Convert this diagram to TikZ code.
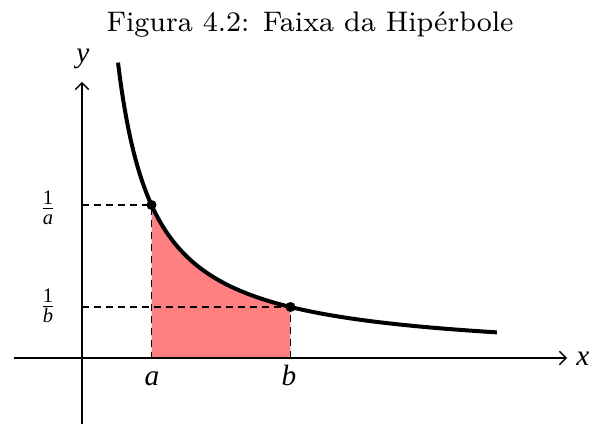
\documentclass[tikz,border=0pt]{standalone}
\usepackage{amsmath}
\usepackage{fontspec}
\newfontfamily\tmfont{Liberation Serif}
\usetikzlibrary{arrows.meta}
\tikzset{
  axisline/.style={line width=1pt, -{Straight Barb[length=5pt,width=10pt,line width=1pt]}},
  guide/.style={line width=0.9pt, dash pattern=on 5.25pt off 3.75pt},
  curveline/.style={line width=3pt},
  lbl/.style={font=\fontsize{22}{26}\selectfont\tmfont\itshape, inner sep=0pt},
  dotmark/.style={circle, fill=black, inner sep=0pt, minimum size=7.5pt},
  titlestyle/.style={font=\fontsize{8}{10}\selectfont, inner sep=0pt, scale=2.65},
}
\begin{document}
\begin{tikzpicture}[x=0.75pt,y=-0.75pt]
\useasboundingbox (0,0) rectangle (592,424);
\node[titlestyle, anchor=base] (title) at (310,32) {Figura 4.2: Faixa da Hip\'erbole};
\coordinate (O) at (82,358);
\begin{scope}[shift={(82,358)}, x={(52.125pt,0pt)}, y={(0pt,114.75pt)}]
  \coordinate (A) at (1,1);
  \coordinate (B) at (3,1/3);
  \coordinate (Ax) at (1,0);
  \coordinate (Bx) at (3,0);
  \coordinate (Ay) at (0,1);
  \coordinate (By) at (0,1/3);
  \fill[red!50] (1,0) -- plot[domain=1:3, samples=60] (\x,{1/\x}) -- (3,0) -- cycle;
  \draw[guide] (Ay) -- (A) -- (Ax);
  \draw[guide] (By) -- (B) -- (Bx);
  \draw[curveline] plot[domain=0.518:5.97, samples=150, smooth] (\x,{1/\x});
\end{scope}
\coordinate (xs) at (14,358);
\coordinate (xe) at (567,358);
\coordinate (ys) at (82,426);
\coordinate (ye) at (82,82);
\draw[axisline] (xs) -- (xe);
\draw[axisline] (ys) -- (ye);
\node[dotmark] (pa) at (A) {};
\node[dotmark] (pb) at (B) {};
\node[lbl, anchor=base] (xl) at (583,365) {x};
\node[lbl, anchor=base] (yl) at (83,63) {y};
\node[lbl, anchor=base] (al) at (152,385) {a};
\node[lbl, anchor=base] (bl) at (289,385) {b};
\node[lbl, font=\fontsize{22}{26}\selectfont\tmfont] (fa) at (48,208) {$\frac{\text{\tmfont 1}}{\text{\tmfont\itshape a}}$};
\node[lbl, font=\fontsize{22}{26}\selectfont\tmfont] (fb) at (48,306) {$\frac{\text{\tmfont 1}}{\text{\tmfont\itshape b}}$};
\end{tikzpicture}
\end{document}
